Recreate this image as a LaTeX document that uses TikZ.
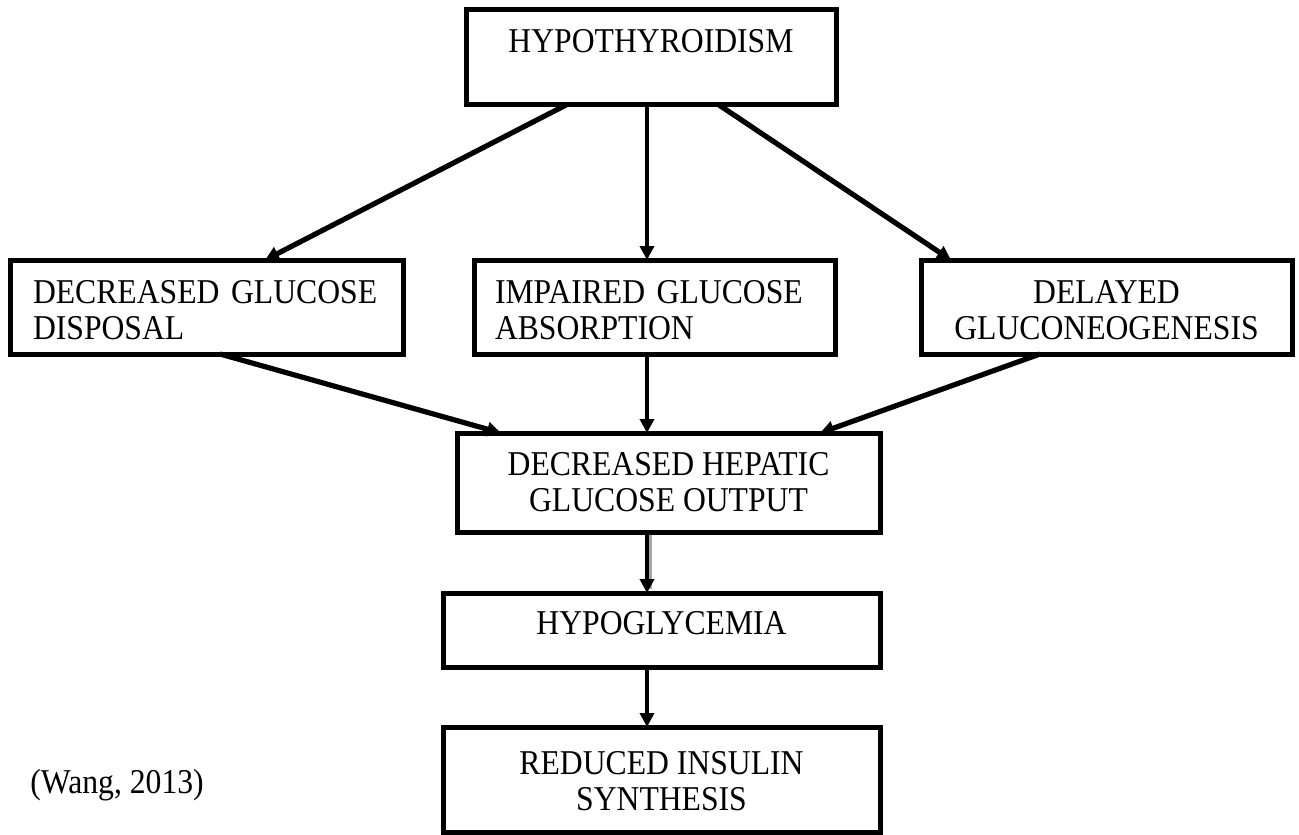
\documentclass[tikz,border=0pt]{standalone}
\usepackage{fontspec}
\setmainfont[FakeStretch=0.91]{Liberation Serif}
\usetikzlibrary{arrows.meta}
\begin{document}
\begin{tikzpicture}[x=0.5pt,y=-0.5pt,
  txt/.style={font=\fontsize{17.4}{18}\selectfont},
  box/.style={draw, line width=2.5pt, rectangle, inner sep=0pt, outer sep=0pt, txt},
  arr/.style={line width=2.2pt, -{Triangle[length=7pt,width=7pt]}},
  diag/.style={arr, line width=2.6pt},
  shade/.style={line width=1.2pt, black!35},
  lbl/.style={inner sep=0pt, txt}
]
\useasboundingbox (0,0) rectangle (1299,834);

\node[box, anchor=north, minimum width=185pt, minimum height=47.5pt,
  text height=21.5pt, text depth=26pt] (top) at (651,10) {HYPOTHYROIDISM};

\node[box, minimum width=196.5pt, minimum height=47pt, text width=173.5pt, align=left]
  (left) at (206.5,307) {\rule{0pt}{14.8pt}DECREASED GLUCOSE\\DISPOSAL};
\node[box, minimum width=180.5pt, minimum height=47pt, text width=159.5pt, align=left]
  (mid) at (654.5,307) {\rule{0pt}{14.8pt}IMPAIRED GLUCOSE\\ABSORPTION};
\node[box, minimum width=185.5pt, minimum height=47pt, align=center]
  (right) at (1106.5,307) {\rule{0pt}{14.8pt}DELAYED\\GLUCONEOGENESIS};

\node[box, minimum width=211.5pt, minimum height=49.5pt, align=center]
  (hep) at (668.5,482.5) {DECREASED HEPATIC\\GLUCOSE OUTPUT};

\node[box, anchor=north, minimum width=218.5pt, minimum height=37pt,
  text height=20.5pt, text depth=16.5pt] (hypo) at (661.5,593) {HYPOGLYCEMIA};

\node[box, minimum width=218.5pt, minimum height=52.5pt, align=center]
  (red) at (661.5,779.5) {\rule{0pt}{13.5pt}REDUCED INSULIN\\SYNTHESIS};

\node[lbl, anchor=base west] (src) at (30,793) {(Wang, 2013)};

\draw[diag] ([xshift=-42.5pt]top.south) -- ([xshift=29.25pt]left.north);
\draw[arr] ([xshift=-2pt]top.south) -- ([xshift=-3.75pt]mid.north);
\draw[diag] ([xshift=34pt]top.south) -- ([xshift=-77.75pt]right.north);
\draw[diag] ([xshift=6.75pt]left.south) -- ([xshift=-83.75pt]hep.north);
\draw[arr] ([xshift=-3.75pt]mid.south) -- ([xshift=-10.75pt]hep.north);
\draw[diag] ([xshift=-33.25pt]right.south) -- ([xshift=75.75pt]hep.north);
\draw[shade] ([xshift=-9pt,yshift=-1.5pt]hep.south) -- ([xshift=-5.5pt,yshift=2pt]hypo.north);
\draw[arr] ([xshift=-10.75pt]hep.south) -- ([xshift=-7.25pt]hypo.north);
\draw[arr] ([xshift=-7.25pt]hypo.south) -- ([xshift=-7.25pt]red.north);
\end{tikzpicture}
\end{document}
